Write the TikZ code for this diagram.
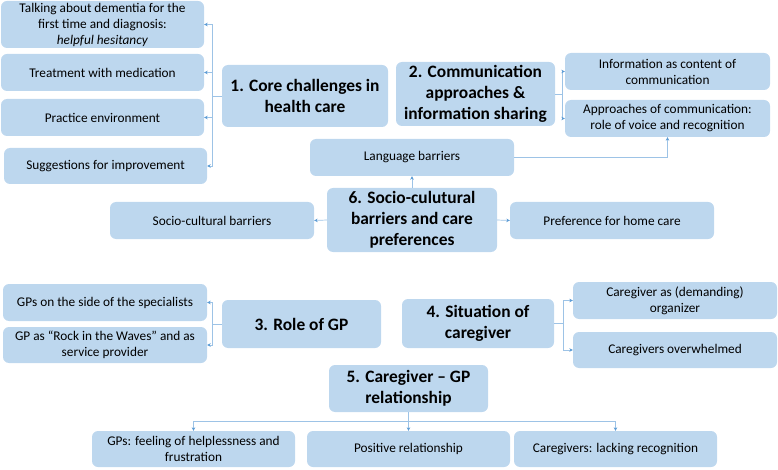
\documentclass[tikz,border=0pt]{standalone}
\usepackage{fontspec}
\setmainfont{Carlito}
\usetikzlibrary{arrows.meta}
\definecolor{boxblue}{HTML}{BDD7EE}
\definecolor{linkblue}{HTML}{9DC3E6}
\definecolor{tipblue}{HTML}{5B9BD5}
\tikzset{
  box/.style={rectangle, rounded corners=6pt, fill=boxblue, draw=none, align=center, inner sep=0pt,
    font=\fontsize{13.3}{16}\selectfont, text=black},
  core/.style={box, font=\fontsize{17.4}{21}\selectfont\bfseries},
  link/.style={draw=linkblue, line width=0.7pt, -{Stealth[length=3.5pt,width=3.5pt,color=tipblue]}}
}
\begin{document}
\begin{tikzpicture}[x=1pt,y=-1pt]
\useasboundingbox (0,0) rectangle (778,470);
% group 1
\node[box, minimum width=203pt, minimum height=47pt] (b1a) at (102.5,24.5) {Talking about dementia for the\\first time and diagnosis:\\\textit{helpful hesitancy}};
\node[box, minimum width=203pt, minimum height=37pt] (b1b) at (102.5,72.5) {Treatment with medication};
\node[box, minimum width=203pt, minimum height=37pt] (b1c) at (102.5,117.5) {Practice environment};
\node[box, minimum width=203pt, minimum height=36pt] (b1d) at (105.5,166) {Suggestions for improvement};
\node[core, minimum width=166pt, minimum height=62pt] (c1) at (305,96) {1. Core challenges in\\health care};
% group 2
\node[core, minimum width=159pt, minimum height=64pt] (c2) at (475.5,94) {2. Communication\\approaches \&\\information sharing};
\node[box, minimum width=205pt, minimum height=37pt] (b2a) at (667.5,71.5) {Information as content of\\communication};
\node[box, minimum width=205pt, minimum height=37pt] (b2b) at (667.5,118.5) {Approaches of communication:\\role of voice and recognition};
% group 6
\node[box, minimum width=204pt, minimum height=37pt] (lang) at (412,157.5) {Language barriers};
\node[core, minimum width=170pt, minimum height=64pt] (c6) at (412,220) {6. Socio-culutural\\barriers and care\\preferences};
\node[box, minimum width=204pt, minimum height=37pt] (socio) at (212,220.5) {Socio-cultural barriers};
\node[box, minimum width=204pt, minimum height=37pt] (pref) at (612,220.5) {Preference for home care};
% group 3
\node[box, minimum width=204pt, minimum height=37pt] (b3a) at (105,302.5) {GPs on the side of the specialists};
\node[box, minimum width=204pt, minimum height=36pt] (b3b) at (105,345) {GP as “Rock in the Waves” and as\\service provider};
\node[core, minimum width=159pt, minimum height=48pt] (c3) at (301.5,324) {3. Role of GP};
% group 4
\node[core, minimum width=152pt, minimum height=49pt] (c4) at (478,323.5) {4. Situation of\\caregiver};
\node[box, minimum width=204pt, minimum height=37pt] (b4a) at (675,300.5) {Caregiver as (demanding)\\organizer};
\node[box, minimum width=204pt, minimum height=36pt] (b4b) at (675,350) {Caregivers overwhelmed};
% group 5
\node[core, minimum width=159pt, minimum height=47pt] (c5) at (408.5,388.5) {5. Caregiver – GP\\relationship};
\node[box, minimum width=203pt, minimum height=36pt] (b5a) at (193.5,449) {GPs: feeling of helplessness and\\frustration};
\node[box, minimum width=203pt, minimum height=36pt] (b5b) at (408.5,449) {Positive relationship};
\node[box, minimum width=203pt, minimum height=36pt] (b5c) at (615.5,449) {Caregivers: lacking recognition};
% connectors
\foreach \t in {b1a,b1b,b1c,b1d}
  \draw[link] (c1.west) -- ++(-9,0) |- (\t.east);
\foreach \t in {b2a,b2b}
  \draw[link] (c2.east) -- ++(7,0) |- (\t.west);
\draw[link] (lang.east) -| (b2b.south);
\draw[link] (c6.north) -- (lang.south);
\draw[link] (c6.west) -- (socio.east);
\draw[link] (c6.east) -- (pref.west);
\foreach \t in {b3a,b3b}
  \draw[link] (c3.west) -- ++(-9,0) |- (\t.east);
\foreach \t in {b4a,b4b}
  \draw[link] (c4.east) -- ++(9,0) |- (\t.west);
\foreach \t in {b5a,b5b,b5c}
  \draw[link] (c5.south) -- ++(0,9) -| (\t.north);
\end{tikzpicture}
\end{document}
